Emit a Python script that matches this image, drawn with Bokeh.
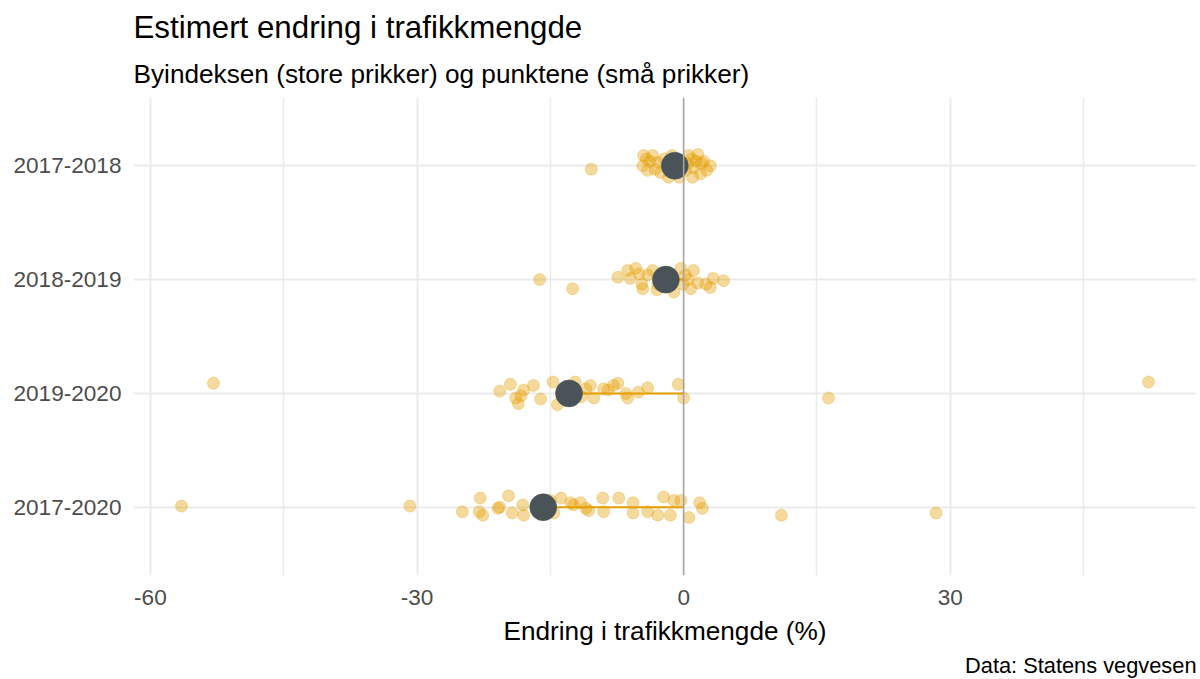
from bokeh.plotting import figure
from bokeh.models import ColumnDataSource, FactorRange, Range1d, FixedTicker, Title, Span
from bokeh.embed import file_html
from bokeh.resources import INLINE

# ---------------- data ----------------
periods = ["2017-2018", "2018-2019", "2019-2020", "2017-2020"]
city_index = [-1.0, -2.0, -12.9, -15.8]

# point values (% change) and their vertical jitter (in category units)
p1718_val = [-10.4, -4.5, -3.5, -4.6, -4.05, -2.9, -2.6, -1.7, 0.56, 1.6, 1.1, 1.9, 3.0, 2.25, 1.0,
             0.45, -3.8, -3.2, -2.2, -0.5, 0.2, 1.4, 2.6, -4.2, -1.3, 0.9, 2.0, -0.8]
p1718_jit = [-0.03, 0.09, 0.09, 0.0, -0.04, 0.03, -0.06, -0.1, 0.09, 0.1, -0.02, -0.07, 0.0, 0.04, -0.1,
             0.02, 0.04, -0.03, 0.06, -0.1, -0.04, 0.04, -0.04, 0.06, 0.09, 0.06, 0.02, -0.03]

p1819_val = [-16.2, -12.5, -7.4, -6.3, -5.4, -6.0, -4.6, -4.05, -2.9, -0.3, 0.2, -0.1, 1.1, 0.8, 1.6,
             3.3, 3.0, 4.5, -1.1, -5.0, -3.5, -1.5, 0.5, 2.5, -4.7, -3.0]
p1819_jit = [0.0, -0.08, 0.02, 0.08, 0.1, 0.01, -0.08, 0.04, -0.04, 0.1, 0.04, -0.04, 0.08, -0.08, -0.03,
             0.01, -0.07, -0.01, -0.11, 0.05, 0.08, -0.05, 0.0, -0.04, -0.04, -0.09]

p1920_val = [-52.9, -20.7, -19.5, -18.9, -18.3, -18.0, -16.9, -16.1, -14.7, -14.2, -12.2, -11.0, -10.5,
             -10.1, -9.0, -7.9, -7.4, -6.5, -6.3, -5.1, -4.05, -0.6, 0.0, 16.3, 52.3, -18.6, -13.0,
             -11.5, -8.5]
p1920_jit = [0.09, 0.02, 0.08, -0.04, -0.02, 0.03, 0.07, -0.05, 0.1, -0.1, 0.1, 0.04, 0.07,
             -0.04, 0.04, 0.07, 0.09, 0.0, -0.04, 0.01, 0.05, 0.08, -0.04, -0.04, 0.1, -0.09, -0.04,
             -0.03, 0.03]

p1720_val = [-56.5, -30.8, -24.9, -22.9, -23.0, -22.6, -20.9, -20.7, -19.7, -19.3, -18.1, -18.0, -14.6,
             -13.8, -12.7, -12.4, -11.6, -11.0, -10.7, -9.0, -9.1, -7.3, -5.7, -5.7, -4.05, -2.9,
             -2.25, -1.5, -1.1, -0.3, 0.6, 1.8, 2.1, 11.0, 28.4, -16.5, -15.0]
p1720_jit = [0.01, 0.01, -0.04, 0.08, -0.04, -0.07, -0.01, 0.0, 0.1, -0.05, 0.02, -0.07, -0.05,
             0.08, 0.04, 0.02, 0.04, -0.01, -0.03, -0.04, 0.08, 0.08, 0.04, -0.05, -0.04, -0.07,
             0.09, -0.07, 0.06, 0.06, -0.09, 0.04, -0.01, -0.07, -0.05, -0.03, 0.06]

x_ticks = [-60, -30, 0, 30]
x_tick_labels = ["-60", "-30", "0", "30"]
x_minor = [-45, -15, 15, 45]

# ---------------- build ----------------
FONT = "Liberation Sans"
ORANGE = "#E69F00"
DARK = "#4A5458"

vals_by_period = [p1718_val, p1819_val, p1920_val, p1720_val]
jits_by_period = [p1718_jit, p1819_jit, p1920_jit, p1720_jit]
px, py = [], []
for per, vals, jits in zip(periods, vals_by_period, jits_by_period):
    for v, j in zip(vals, jits):
        px.append(v)
        py.append((per, j))
pts = ColumnDataSource(dict(x=px, y=py))
idx = ColumnDataSource(dict(x=city_index, y=periods, zero=[0] * len(periods)))

p = figure(width=1200, height=679, output_backend="svg", toolbar_location=None,
           x_range=Range1d(-61.9, 57.7),
           y_range=FactorRange(factors=list(reversed(periods)), range_padding=0.1,
                               range_padding_units="absolute"),
           min_border_left=133, min_border_right=4, min_border_top=97, min_border_bottom=104)
p.outline_line_color = None
p.background_fill_color = "white"
p.border_fill_color = "white"

# titles
sub = Title(text="Byindeksen (store prikker) og punktene (små prikker)", text_font=FONT,
            text_font_size="26.2px", text_font_style="normal", text_color="#000000", offset=0,
            standoff=17)
ttl = Title(text="Estimert endring i trafikkmengde", text_font=FONT, text_font_size="31.3px",
            text_font_style="normal", text_color="#000000", standoff=8)
p.add_layout(sub, "above")
p.add_layout(ttl, "above")

cap = Title(text="Data: Statens vegvesen", text_font=FONT, text_font_size="21.8px",
            text_font_style="normal", text_color="#000000", align="right", standoff=4)
p.add_layout(cap, "below")

# grid
p.xgrid.ticker = FixedTicker(ticks=x_ticks, minor_ticks=x_minor)
p.xgrid.grid_line_color = "#EBEBEB"
p.xgrid.grid_line_width = 2
p.xgrid.minor_grid_line_color = "#EBEBEB"
p.xgrid.minor_grid_line_width = 1.5
p.ygrid.grid_line_color = "#EBEBEB"
p.ygrid.grid_line_width = 2

# axes
p.xaxis.ticker = FixedTicker(ticks=x_ticks)
p.xaxis.major_label_overrides = {t: s for t, s in zip(x_ticks, x_tick_labels)}
p.xaxis.axis_label = "Endring i trafikkmengde (%)"
for ax in (p.xaxis[0], p.yaxis[0]):
    ax.axis_line_color = None
    ax.major_tick_line_color = None
    ax.minor_tick_line_color = None
    ax.major_tick_out = 0
    ax.major_tick_in = 0
    ax.minor_tick_out = 0
    ax.minor_tick_in = 0
    ax.major_label_text_font = FONT
    ax.major_label_text_font_size = "22.6px"
    ax.major_label_text_color = "#4D4D4D"
    ax.axis_label_text_font = FONT
    ax.axis_label_text_font_size = "26.2px"
    ax.axis_label_text_font_style = "normal"
    ax.axis_label_text_color = "#000000"
p.xaxis.major_label_standoff = 14
p.xaxis.axis_label_standoff = 8
p.yaxis.major_label_standoff = 12

# zero line
p.add_layout(Span(location=0, dimension="height", line_color="#A6A6A6", line_width=1.5))

# marks
p.scatter("x", "y", source=pts, size=12, fill_color=ORANGE, fill_alpha=0.38,
          line_color=ORANGE, line_alpha=0.3, line_width=1)
p.segment(x0="x", y0="y", x1="zero", y1="y", source=idx, line_color=ORANGE, line_width=2)
p.scatter("x", "y", source=idx, size=27, fill_color=DARK, line_color=DARK, line_width=0.5)

open("out.html", "w").write(file_html(p, INLINE))
